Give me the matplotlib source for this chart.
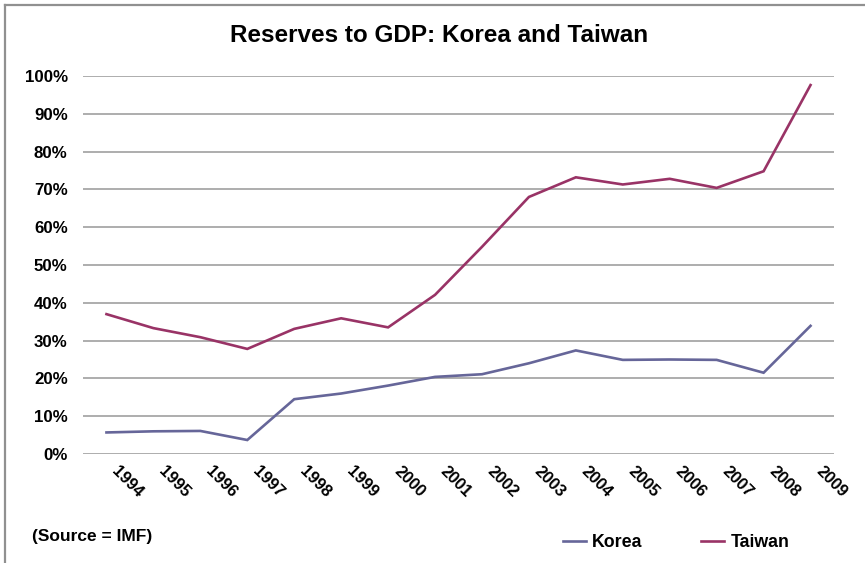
import matplotlib
matplotlib.use("Agg")
import matplotlib.pyplot as plt
from matplotlib.lines import Line2D
from matplotlib.ticker import FuncFormatter
from matplotlib.transforms import ScaledTranslation

years = ["1994", "1995", "1996", "1997", "1998", "1999", "2000", "2001",
         "2002", "2003", "2004", "2005", "2006", "2007", "2008", "2009"]
korea = [5.7, 6.0, 6.1, 3.7, 14.5, 16.0, 18.1, 20.4,
         21.1, 24.0, 27.4, 24.9, 25.0, 24.9, 21.5, 33.9]
taiwan = [37.0, 33.3, 30.9, 27.8, 33.1, 35.9, 33.5, 42.1,
          54.8, 68.0, 73.2, 71.3, 72.8, 70.4, 74.8, 97.6]
yticks = [0, 10, 20, 30, 40, 50, 60, 70, 80, 90, 100]

plt.rcParams['font.family'] = ['Liberation Sans', 'DejaVu Sans']
plt.rcParams['font.weight'] = 'bold'

fig = plt.figure(figsize=(8.65, 5.63), dpi=100)
ax = fig.add_axes([83/865, 1-454/563, (834-83)/865, (454-76)/563])

x = list(range(len(years)))
ax.plot(x, korea, color='#666699', lw=1.9, label='Korea', solid_joinstyle='miter')
ax.plot(x, taiwan, color='#993366', lw=1.9, label='Taiwan', solid_joinstyle='miter')

ax.set_xlim(-0.5, len(years) - 0.5)
ax.set_ylim(0, 100)
ax.set_yticks(yticks)
ax.yaxis.set_major_formatter(FuncFormatter(lambda v, p: f"{int(v)}%"))
ax.grid(axis='y', color='#a0a0a0', lw=1.2)
ax.set_axisbelow(True)
for s in ax.spines.values():
    s.set_visible(False)
ax.tick_params(axis='y', length=0, pad=11, labelsize=12.2)
ax.set_xticks(x)
ax.set_xticklabels(years, rotation=-45, ha='left', va='center',
                   rotation_mode='anchor', fontsize=12)
ax.tick_params(axis='x', length=0, pad=11)
offset = ScaledTranslation(8/100, 0, fig.dpi_scale_trans)
for lbl in ax.get_xticklabels():
    lbl.set_transform(lbl.get_transform() + offset)

fig.text(439/865, 1-36/563, "Reserves to GDP: Korea and Taiwan",
         ha='center', va='center', fontsize=17.5, fontweight='bold')
fig.text(32/865, 1-537/563, "(Source = IMF)", ha='left', va='center',
         fontsize=12.5, fontweight='bold')

leg = fig.legend(loc='center', bbox_to_anchor=(676/865, 1-542.5/563), ncol=2,
                 frameon=False, fontsize=12.8, handlelength=1.3,
                 handletextpad=0.35, columnspacing=3.3)

# outer chart frame (left and top visible)
fig.add_artist(Line2D([4.5/865, 4.5/865], [0, 1-4.5/563], transform=fig.transFigure,
                      color='#909090', lw=1.6))
fig.add_artist(Line2D([4.5/865, 1], [1-4.5/563, 1-4.5/563], transform=fig.transFigure,
                      color='#909090', lw=1.6))

fig.savefig("out.png", dpi=100, facecolor='white')
